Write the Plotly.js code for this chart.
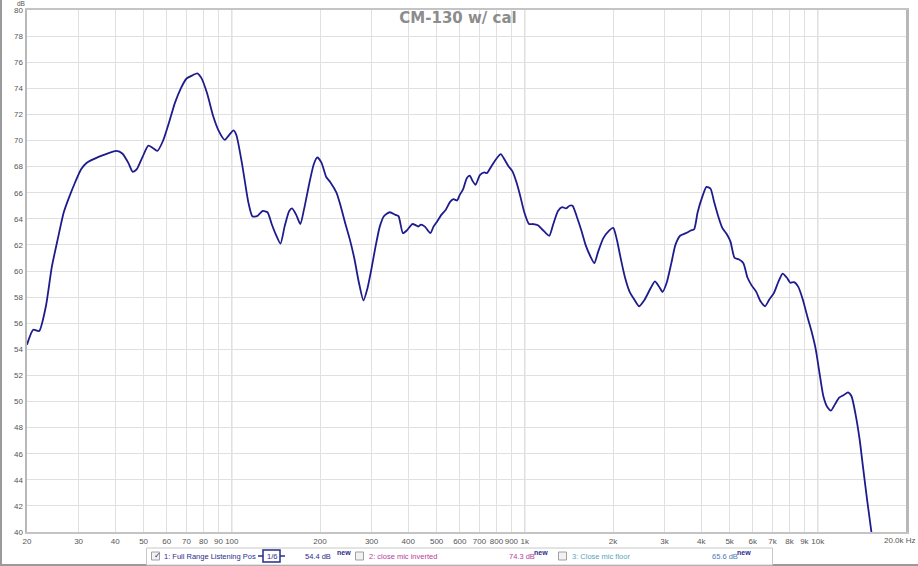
<!DOCTYPE html>
<html>
<head>
<meta charset="utf-8">
<script src="https://cdn.plot.ly/plotly-3.0.1.min.js"></script>
<style>
html,body{margin:0;padding:0;background:#fff;}
#chart{width:918px;height:566px;}
</style>
</head>
<body>
<div id="chart"></div>
<script>
// Frequency (Hz) and SPL (dB)
const freqHz = [20,21,22,23.2,24.3,25.5,26.7,27.9,29.2,30.6,32,35.1,37.6,40.4,42.3,44.3,45.9,47.4,49.6,51.9,53.6,55.7,58.3,61.1,64,67,70.1,73.5,76.2,78.7,82.4,86.3,90.4,94.6,97.7,101.4,103.7,108.6,113.8,117.5,121.9,127.6,132.4,136.8,141.3,146.6,151.4,157,160.6,165.9,171.4,176.3,184.6,190.6,195.9,202.3,210,216.9,227.6,235.1,244.3,252.3,262.3,271,281.4,290.6,298.7,308.4,319.9,330.4,345.9,362.2,370.7,383.7,395.5,413.2,425.3,433.3,441.8,456,476.3,488,502.1,518.8,537.6,555.9,571.4,587.5,598.8,616.6,633.9,648.6,663.6,679.1,702.5,727.8,742.4,770.2,800,827.9,854.7,878.5,906.9,939.6,966,996,1034,1069,1109,1145,1180,1213,1251,1298,1341,1382,1421,1455,1503,1560,1612,1672,1728,1778,1852,1940,2004,2062,2128,2198,2280,2367,2456,2563,2690,2780,2874,2953,3049,3163,3266,3388,3548,3683,3784,3890,4036,4169,4305,4426,4571,4721,4898,5035,5200,5370,5572,5754,5943,6166,6368,6607,6823,7079,7345,7586,7834,8054,8299,8570,8892,9226,9528,9840,10116,10447,10789,11092,11455,11830,12274,12677,13032,13459,13900,14289,14757,15241];
const splDb = [54.35,55.5,55.4,57.3,60.3,62.5,64.5,65.7,66.8,67.8,68.3,68.75,69.0,69.2,69.0,68.3,67.6,67.8,68.75,69.6,69.45,69.2,70.0,71.4,72.9,74.0,74.75,75.0,75.15,74.8,73.6,71.9,70.7,70.05,70.4,70.77,70.4,68.1,65.3,64.2,64.2,64.6,64.5,63.6,62.8,62.1,63.4,64.6,64.8,64.3,63.6,64.7,66.9,68.2,68.7,68.3,67.2,66.8,66.0,65.0,63.6,62.5,60.9,59.2,57.75,58.7,60.0,61.7,63.4,64.2,64.5,64.3,64.2,62.9,63.1,63.6,63.5,63.4,63.55,63.4,62.9,63.4,63.8,64.3,64.7,65.3,65.5,65.4,65.8,66.3,67.1,67.3,66.9,66.6,67.35,67.55,67.5,68.05,68.6,68.95,68.5,68.05,67.65,66.7,65.7,64.5,63.6,63.6,63.5,63.2,62.9,62.7,63.6,64.6,64.9,64.8,65.0,65.0,64.2,63.1,62.0,61.15,60.6,61.45,62.5,63.1,63.3,62.4,60.9,59.5,58.4,57.8,57.3,57.8,58.7,59.2,58.8,58.4,59.1,60.6,62.0,62.7,62.9,63.1,63.2,64.5,65.7,66.45,66.3,65.3,64.2,63.3,62.8,62.25,61.0,60.9,60.6,59.5,58.9,58.4,57.7,57.3,57.8,58.3,59.2,59.8,59.5,59.1,59.15,58.8,57.8,56.45,55.35,54.0,52.3,50.4,49.55,49.3,49.8,50.3,50.5,50.7,50.4,49.0,47.05,44.85,42.35,40.0];

const xTickVals = [20,30,40,50,60,70,80,90,100,200,300,400,500,600,700,800,900,1000,2000,3000,4000,5000,6000,7000,8000,9000,10000];
const xTickText = ['20','30','40','50','60','70','80','90','100','200','300','400','500','600','700','800','900','1k','2k','3k','4k','5k','6k','7k','8k','9k','10k'];
const yTickVals = [40,42,44,46,48,50,52,54,56,58,60,62,64,66,68,70,72,74,76,78,80];
const decadeLines = [100,1000,10000];

const chartTitle = 'CM-130 w/ cal';
const legendItems = [
  {label:'1: Full Range Listening Pos', level:'54.4 dB', color:'#2b2b8c'},
  {label:'2: close mic inverted', level:'74.3 dB', color:'#b8409c'},
  {label:'3: Close mic floor', level:'65.6 dB', color:'#5aa6bd'}
];
const levelColors = ['#2b2b8c','#b8409c','#4a7cbc'];

const tickFont = {family:'Liberation Sans, Arial, sans-serif', size:8, color:'#555'};

const trace = {
  x: freqHz, y: splDb, type:'scatter', mode:'lines',
  line:{color:'#1e1c8c', width:1.8, shape:'spline', smoothing:0.6},
  hoverinfo:'skip', showlegend:false
};

const px = v => (v-27)/879;
const py = v => (532-v)/522;

const shapes = decadeLines.map(f => ({
  type:'line', xref:'x', yref:'paper', x0:f, x1:f, y0:0, y1:1,
  line:{color:'#c6c6c6', width:1}, layer:'below'
}));
// window frame lines
shapes.push({type:'line', xref:'paper', yref:'paper', x0:px(0.5), x1:px(0.5), y0:py(566), y1:py(0), line:{color:'#9a9a9a', width:3}});
shapes.push({type:'line', xref:'paper', yref:'paper', x0:px(0), x1:px(918), y0:py(565), y1:py(565), line:{color:'#9a9a9a', width:2}});
// legend strip box
shapes.push({type:'rect', xref:'paper', yref:'paper', x0:px(146.5), x1:px(772.5), y0:py(548), y1:py(565), line:{color:'#c8c8c8', width:1}, fillcolor:'#ffffff'});
// 1/6 smoothing badge
shapes.push({type:'rect', xref:'paper', yref:'paper', x0:px(263), x1:px(280), y0:py(550), y1:py(562), line:{color:'#2b2b8c', width:1.5}, fillcolor:'#ffffff'});
shapes.push({type:'line', xref:'paper', yref:'paper', x0:px(258), x1:px(263), y0:py(556), y1:py(556), line:{color:'#2b2b8c', width:1.5}});
shapes.push({type:'line', xref:'paper', yref:'paper', x0:px(280), x1:px(285), y0:py(556), y1:py(556), line:{color:'#2b2b8c', width:1.5}});
// checkboxes
const boxX = [151.5, 355.5, 558.5];
boxX.forEach(bx => shapes.push({type:'rect', xref:'paper', yref:'paper', x0:px(bx), x1:px(bx+8), y0:py(552), y1:py(560), line:{color:'#a0a0a0', width:1}, fillcolor:'#f2f2f2'}));

const legFont = (c) => ({family:'Liberation Sans, Arial, sans-serif', size:7.5, color:c});
const newFont = (c) => ({family:'Liberation Sans, Arial, sans-serif', size:7, color:c});

const annotations = [
  {xref:'paper', yref:'paper', x:px(26), y:py(-1), xanchor:'right', yanchor:'top', borderpad:0, text:'dB', showarrow:false, font:{family:'Liberation Sans, Arial, sans-serif', size:6.5, color:'#555'}},
  {xref:'paper', yref:'paper', x:px(918), y:py(540), xanchor:'right', yanchor:'middle', text:'20.0k Hz', showarrow:false, font:tickFont},
  {xref:'paper', yref:'paper', x:px(152), y:py(555.5), xanchor:'left', yanchor:'middle', text:'✓', showarrow:false, font:{family:'DejaVu Sans', size:8, color:'#2b2b8c'}},
  {xref:'paper', yref:'paper', x:px(162), y:py(556), xanchor:'left', yanchor:'middle', text:legendItems[0].label, showarrow:false, font:legFont(legendItems[0].color)},
  {xref:'paper', yref:'paper', x:px(271.5), y:py(556), xanchor:'center', yanchor:'middle', text:'1/6', showarrow:false, font:legFont('#2b2b8c')},
  {xref:'paper', yref:'paper', x:px(303), y:py(556), xanchor:'left', yanchor:'middle', text:legendItems[0].level, showarrow:false, font:legFont(levelColors[0])},
  {xref:'paper', yref:'paper', x:px(335), y:py(552), xanchor:'left', yanchor:'middle', text:'<b>new</b>', showarrow:false, font:newFont(levelColors[0])},
  {xref:'paper', yref:'paper', x:px(367), y:py(556), xanchor:'left', yanchor:'middle', text:legendItems[1].label, showarrow:false, font:legFont(legendItems[1].color)},
  {xref:'paper', yref:'paper', x:px(507), y:py(556), xanchor:'left', yanchor:'middle', text:legendItems[1].level, showarrow:false, font:legFont(levelColors[1])},
  {xref:'paper', yref:'paper', x:px(532), y:py(552), xanchor:'left', yanchor:'middle', text:'<b>new</b>', showarrow:false, font:newFont('#2b2b8c')},
  {xref:'paper', yref:'paper', x:px(570), y:py(556), xanchor:'left', yanchor:'middle', text:legendItems[2].label, showarrow:false, font:legFont(legendItems[2].color)},
  {xref:'paper', yref:'paper', x:px(710), y:py(556), xanchor:'left', yanchor:'middle', text:legendItems[2].level, showarrow:false, font:legFont(levelColors[2])},
  {xref:'paper', yref:'paper', x:px(735), y:py(552), xanchor:'left', yanchor:'middle', text:'<b>new</b>', showarrow:false, font:newFont('#2b2b8c')}
];

const layout = {
  width:918, height:566,
  margin:{l:27, r:12, t:10, b:34, pad:0},
  paper_bgcolor:'#ffffff', plot_bgcolor:'#ffffff',
  title:{text:chartTitle, x:px(458), xref:'paper', xanchor:'center', y:1-18/566, yref:'container', yanchor:'middle',
         font:{family:'DejaVu Sans, sans-serif', size:15, color:'#8c8c8c', weight:'bold'}},
  xaxis:{type:'log', range:[Math.log10(20), Math.log10(20000)], tickmode:'array', tickvals:xTickVals, ticktext:xTickText,
         tickangle:0, showgrid:true, gridcolor:'#e0e0e0', gridwidth:1, zeroline:false, ticks:'', tickfont:tickFont,
         showline:true, linecolor:'#c4c4c4', linewidth:2, mirror:true, fixedrange:true},
  yaxis:{range:[40,80], tickmode:'array', tickvals:yTickVals, showgrid:true, gridcolor:'#e0e0e0', gridwidth:1,
         zeroline:false, ticks:'', tickfont:tickFont, showline:true, linecolor:'#b8b8b8', linewidth:2.5, mirror:true, fixedrange:true},
  shapes:shapes,
  annotations:annotations,
  showlegend:false
};

Plotly.newPlot('chart', [trace], layout, {staticPlot:true, displayModeBar:false});
</script>
</body>
</html>
